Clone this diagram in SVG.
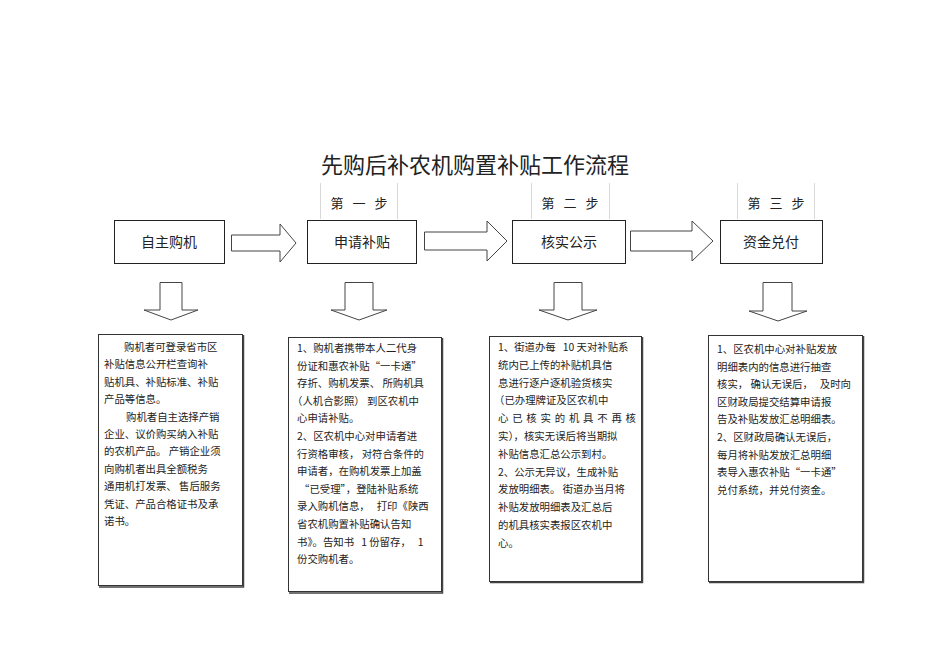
<svg xmlns="http://www.w3.org/2000/svg" width="950" height="672" viewBox="0 0 950 672">
<style>
text{font-family:"Noto Sans CJK SC","Liberation Sans",sans-serif;fill:#222;}
.title{font-size:22px;text-anchor:middle;}
.step{font-size:13px;text-anchor:middle;}
.lbl{font-size:14px;text-anchor:middle;}
.body{font-size:10.4px;}
.box{fill:#fff;stroke:#222;stroke-width:1;}
.tbox{fill:#fff;stroke:#333;stroke-width:1;}
.shadow{fill:none;stroke:#444;stroke-width:1.5;}
.arrow{fill:#fff;stroke:#444;stroke-width:1;stroke-linejoin:miter;}
.tab{stroke:#d8d8d8;stroke-width:1;fill:none;}
</style>
<rect width="950" height="672" fill="#fff"/>
<text class="title" x="475" y="173">先购后补农机购置补贴工作流程</text>

<g id="step1"><path class="tab" d="M320.5,183 V219 M397.5,183 V219"/><text class="step" x="337 359 381" y="208">第一步</text></g>
<g id="step2"><path class="tab" d="M531.5,183 V219 M609.5,183 V219"/><text class="step" x="548 570 592" y="208">第二步</text></g>
<g id="step3"><path class="tab" d="M737.5,183 V219 M814.5,183 V219"/><text class="step" x="754 776 798" y="208">第三步</text></g>

<g id="n1"><rect class="box" x="114.5" y="220.5" width="110" height="43"/><text class="lbl" x="169" y="247">自主购机</text></g>
<g id="n2"><rect class="box" x="307.5" y="220.5" width="109" height="43"/><text class="lbl" x="362" y="247">申请补贴</text></g>
<g id="n3"><rect class="box" x="512.5" y="220.5" width="113" height="43"/><text class="lbl" x="569" y="247">核实公示</text></g>
<g id="n4"><rect class="box" x="720.5" y="220.5" width="102" height="43"/><text class="lbl" x="771" y="247">资金兑付</text></g>

<g id="connectors">
<polygon class="arrow" points="231.5,235 280,235 280,224 296,243 280,262 280,251 231.5,251"/>
<polygon class="arrow" points="424.5,232 487,232 487,221 507,241 487,261 487,250 424.5,250"/>
<polygon class="arrow" points="630.5,231 692,231 692,221 713,241 692,261 692,251 630.5,251"/>
<polygon class="arrow" points="160,282.5 182,282.5 182,310 198,310 171,320 144,310 160,310"/>
<polygon class="arrow" points="345,282.5 373,282.5 373,310 387,310 359,320 331,310 345,310"/>
<polygon class="arrow" points="554,282.5 582,282.5 582,310 597,310 568,320 539,310 554,310"/>
<polygon class="arrow" points="763,282.5 792,282.5 792,311 807,311 778,321 749,311 763,311"/>
</g>

<g id="t1">
<rect class="tbox" x="98.5" y="334.5" width="144" height="251"/>
<path class="shadow" d="M243.5,335 V587 H99"/>
<text class="body" x="124" y="351">购机者可登录省市区</text>
<text class="body" x="104" y="368.4">补贴信息公开栏查询补</text>
<text class="body" x="104" y="385.8">贴机具、补贴标准、补贴</text>
<text class="body" x="104" y="403.2">产品等信息。</text>
<text class="body" x="126" y="420.6">购机者自主选择产销</text>
<text class="body" x="104" y="438">企业、议价购买纳入补贴</text>
<text class="body" x="104" y="455.4" xml:space="preserve">的农机产品。 产销企业须</text>
<text class="body" x="104" y="472.8">向购机者出具全额税务</text>
<text class="body" x="104" y="490.2" xml:space="preserve">通用机打发票、 售后服务</text>
<text class="body" x="104" y="507.6">凭证、产品合格证书及承</text>
<text class="body" x="104" y="525">诺书。</text>
</g>

<g id="t2">
<rect class="tbox" x="288.5" y="337.5" width="153" height="254"/>
<path class="shadow" d="M442.5,338 V593 H289"/>
<text class="body" x="297" y="352">1、购机者携带本人二代身</text>
<text class="body" x="297" y="369.6">份证和惠农补贴“一卡通”</text>
<text class="body" x="297" y="387.2" xml:space="preserve">存折、购机发票、 所购机具</text>
<text class="body" x="292" y="404.8" xml:space="preserve">（人机合影照） 到区农机中</text>
<text class="body" x="297" y="422.4">心申请补贴。</text>
<text class="body" x="297" y="440">2、区农机中心对申请者进</text>
<text class="body" x="297" y="457.6" xml:space="preserve">行资格审核， 对符合条件的</text>
<text class="body" x="297" y="475.2">申请者，在购机发票上加盖</text>
<text class="body" x="299" y="492.8">“已受理”，登陆补贴系统</text>
<text class="body" x="297" y="510.4" xml:space="preserve">录入购机信息，   打印《陕西</text>
<text class="body" x="297" y="528">省农机购置补贴确认告知</text>
<text class="body" x="297" y="545.6" xml:space="preserve">书》。告知书   1 份留存，   1</text>
<text class="body" x="297" y="563.2">份交购机者。</text>
</g>

<g id="t3">
<rect class="tbox" x="489.5" y="336.5" width="152" height="245"/>
<path class="shadow" d="M642.5,337 V582.5 H490"/>
<text class="body" x="498" y="351" xml:space="preserve">1、街道办每   10 天对补贴系</text>
<text class="body" x="498" y="368.8">统内已上传的补贴机具信</text>
<text class="body" x="498" y="386.6">息进行逐户逐机验货核实</text>
<text class="body" x="494" y="404.4">（已办理牌证及区农机中</text>
<text class="body" x="498" y="422.2" textLength="138" lengthAdjust="spacing">心已核实的机具不再核</text>
<text class="body" x="498" y="440">实），核实无误后将当期拟</text>
<text class="body" x="498" y="457.8">补贴信息汇总公示到村。</text>
<text class="body" x="498" y="475.6">2、公示无异议，生成补贴</text>
<text class="body" x="498" y="493.4" xml:space="preserve">发放明细表。 街道办当月将</text>
<text class="body" x="498" y="511.2">补贴发放明细表及汇总后</text>
<text class="body" x="498" y="529">的机具核实表报区农机中</text>
<text class="body" x="498" y="546.8">心。</text>
</g>

<g id="t4">
<rect class="tbox" x="708.5" y="335.5" width="154" height="246"/>
<path class="shadow" d="M863.5,336 V582.5 H709"/>
<text class="body" x="717" y="353">1、区农机中心对补贴发放</text>
<text class="body" x="717" y="370.6">明细表内的信息进行抽查</text>
<text class="body" x="717" y="388.2" xml:space="preserve">核实， 确认无误后，   及时向</text>
<text class="body" x="717" y="405.8">区财政局提交结算申请报</text>
<text class="body" x="717" y="423.4">告及补贴发放汇总明细表。</text>
<text class="body" x="717" y="441">2、区财政局确认无误后，</text>
<text class="body" x="717" y="458.6">每月将补贴发放汇总明细</text>
<text class="body" x="717" y="476.2">表导入惠农补贴“一卡通”</text>
<text class="body" x="717" y="493.8">兑付系统，并兑付资金。</text>
</g>
</svg>
